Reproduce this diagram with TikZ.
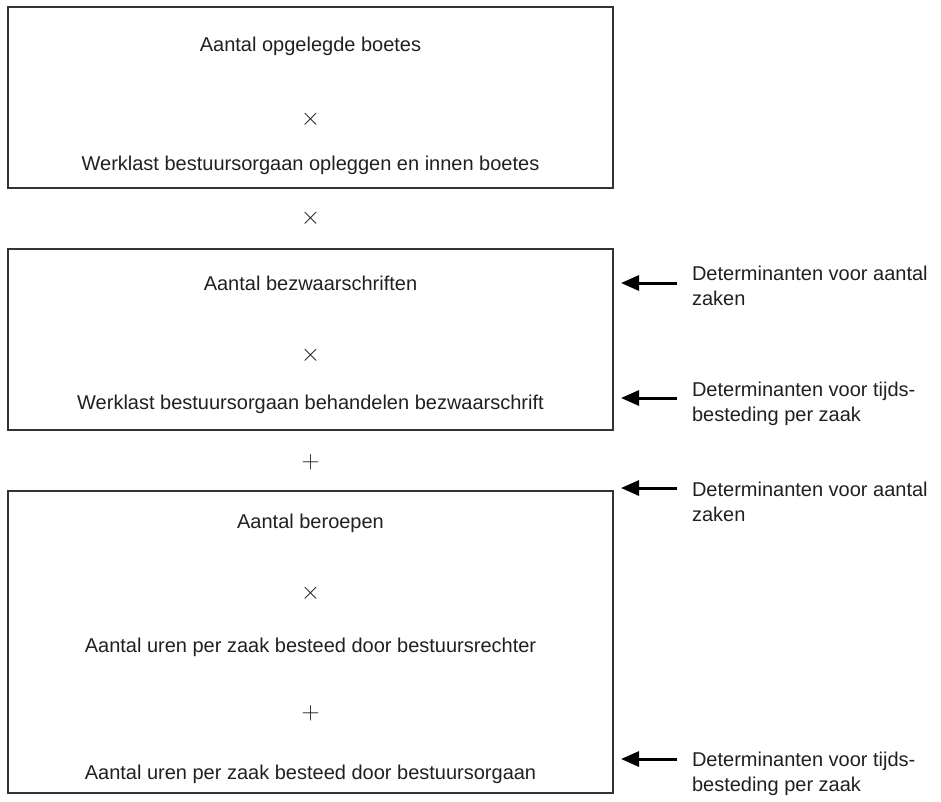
\documentclass[tikz,border=0pt]{standalone}
\usepackage{fontspec}
\setmainfont{Liberation Sans}
\usetikzlibrary{arrows.meta}
\definecolor{txt}{HTML}{231F20}
\definecolor{boxline}{HTML}{333333}
\begin{document}
\begin{tikzpicture}[x=1pt,y=-1pt,
  every node/.style={inner sep=0pt,outer sep=0pt,text=txt,font=\fontsize{20}{25}\selectfont},
  boxtxt/.style={anchor=base},
  optxt/.style={anchor=center,font=\fontsize{23}{25}\selectfont},
  frame/.style={draw=boxline,line width=1.4pt},
  lbl/.style={anchor=base west,align=left},
  pointer/.style={line width=3pt,-{Triangle[length=18pt,width=15pt]}}]
\useasboundingbox (0,0) rectangle (941,801);
% boxes
\node[frame,minimum width=605pt,minimum height=181pt,anchor=north west] (b1) at (8,7) {};
\node[frame,minimum width=605pt,minimum height=181pt,anchor=north west] (b2) at (8,249) {};
\node[frame,minimum width=605pt,minimum height=302pt,anchor=north west] (b3) at (8,491) {};
% box 1
\node[boxtxt] (t11) at (310.5,51) {Aantal opgelegde boetes};
\node[optxt] (o11) at (310.5,119) {$\times$};
\node[boxtxt] (t12) at (310.5,170) {Werklast bestuursorgaan opleggen en innen boetes};
\node[optxt] (o12) at (310.5,218) {$\times$};
% box 2
\node[boxtxt] (t21) at (310.5,290) {Aantal bezwaarschriften};
\node[optxt] (o21) at (310.5,355) {$\times$};
\node[boxtxt] (t22) at (310.5,409) {Werklast bestuursorgaan behandelen bezwaarschrift};
\node[optxt] (o23) at (310.5,462) {$+$};
% box 3
\node[boxtxt] (t31) at (310.5,528) {Aantal beroepen};
\node[optxt] (o31) at (310.5,593) {$\times$};
\node[boxtxt] (t32) at (310.5,652) {Aantal uren per zaak besteed door bestuursrechter};
\node[optxt] (o32) at (310.5,713) {$+$};
\node[boxtxt] (t33) at (310.5,779) {Aantal uren per zaak besteed door bestuursorgaan};
% labels (base anchor = baseline of last line)
\node[lbl] (l1) at (692,305) {Determinanten voor aantal\\zaken};
\node[lbl] (l2) at (692,421) {Determinanten voor tijds-\\besteding per zaak};
\node[lbl] (l3) at (692,521) {Determinanten voor aantal\\zaken};
\node[lbl] (l4) at (692,791) {Determinanten voor tijds-\\besteding per zaak};
% arrows
\coordinate (s1) at (677,283); \coordinate (e1) at (621,283);
\coordinate (s2) at (677,398); \coordinate (e2) at (621,398);
\coordinate (s3) at (677,488); \coordinate (e3) at (621,488);
\coordinate (s4) at (677,759); \coordinate (e4) at (621,759);
\draw[pointer] (s1) -- (e1);
\draw[pointer] (s2) -- (e2);
\draw[pointer] (s3) -- (e3);
\draw[pointer] (s4) -- (e4);
\end{tikzpicture}
\end{document}
